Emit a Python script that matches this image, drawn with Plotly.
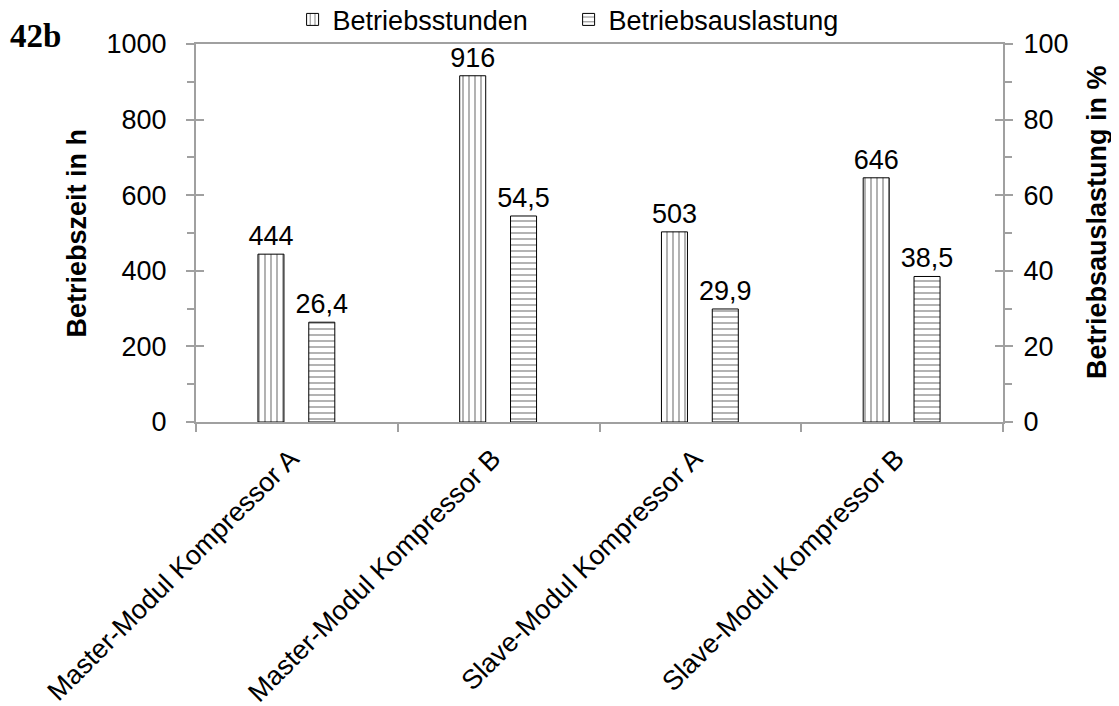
import plotly.graph_objects as go

categories = ["Master-Modul Kompressor A", "Master-Modul Kompressor B",
              "Slave-Modul Kompressor A", "Slave-Modul Kompressor B"]
betriebsstunden = [444, 916, 503, 646]
betriebsauslastung = [26.4, 54.5, 29.9, 38.5]

FONT = "Arial, 'Liberation Sans', sans-serif"
AX = "#a0a0a0"
FS = 27

def de(v):
    return str(v).replace(".", ",")

fig = go.Figure()
fig.add_trace(go.Bar(
    x=categories, y=betriebsstunden, name="Betriebsstunden",
    width=0.129, offset=-0.193,
    marker=dict(color="white", line=dict(color="black", width=1),
                pattern=dict(shape="|", fgcolor="black", bgcolor="white", size=6, solidity=0.2)),
    text=[de(v) for v in betriebsstunden], textposition="outside",
    textfont=dict(family=FONT, size=FS, color="black"),
    constraintext="none", cliponaxis=False, yaxis="y",
))
fig.add_trace(go.Bar(
    x=categories, y=betriebsauslastung, name="Betriebsauslastung",
    width=0.129, offset=0.059,
    marker=dict(color="white", line=dict(color="black", width=1),
                pattern=dict(shape="-", fgcolor="black", bgcolor="white", size=6, solidity=0.2)),
    text=[de(v) for v in betriebsauslastung], textposition="outside",
    textfont=dict(family=FONT, size=FS, color="black"),
    constraintext="none", cliponaxis=False, yaxis="y2",
))

fig.update_layout(
    width=1111, height=698,
    margin=dict(l=188, r=116, t=36, b=284, autoexpand=False),
    paper_bgcolor="white", plot_bgcolor="white",
    font=dict(family=FONT, size=FS, color="black"),
    barmode="overlay",
    showlegend=True,
    legend=dict(orientation="h", x=0.1197, xanchor="left", y=0.983, yanchor="middle",
                yref="container",
                font=dict(family=FONT, size=FS, color="black"),
                entrywidth=231, entrywidthmode="pixels",
                bgcolor="rgba(0,0,0,0)", itemclick=False),
    xaxis=dict(type="category", range=[-0.5, 3.5], showline=True, linecolor=AX, linewidth=2,
               mirror=True, ticks="outside", ticklen=8, tickcolor=AX, tickwidth=1.5,
               tickson="boundaries", tickangle=-45, showgrid=False, automargin=False,
               ticklabelstandoff=8, ticklabelshift=-6,
               tickfont=dict(family=FONT, size=FS, color="black")),
    yaxis=dict(range=[0, 1000], dtick=200, showline=True, linecolor=AX, linewidth=2,
               ticks="outside", ticklen=8, tickcolor=AX, tickwidth=1.5, showgrid=False,
               zeroline=False, ticklabelstandoff=14, automargin=False,
               minor=dict(dtick=100, ticks="outside", ticklen=7, tickcolor=AX, tickwidth=1.5),
               tickfont=dict(family=FONT, size=FS, color="black")),
    yaxis2=dict(range=[0, 100], dtick=20, overlaying="y", side="right", showline=True,
                linecolor=AX, linewidth=2, ticks="outside", ticklen=8, tickcolor=AX,
                tickwidth=1.5, showgrid=False, zeroline=False, ticklabelstandoff=5,
                automargin=False,
                minor=dict(dtick=10, ticks="outside", ticklen=7, tickcolor=AX, tickwidth=1.5),
                tickfont=dict(family=FONT, size=FS, color="black")),
    yaxis3=dict(range=[0, 1000], dtick=200, overlaying="y", side="left", showline=False,
                ticks="inside", ticklen=8, tickcolor=AX, tickwidth=1.5, showgrid=False,
                zeroline=False, showticklabels=False, automargin=False),
    yaxis4=dict(range=[0, 100], dtick=20, overlaying="y", side="right", showline=False,
                ticks="inside", ticklen=8, tickcolor=AX, tickwidth=1.5, showgrid=False,
                zeroline=False, showticklabels=False, automargin=False),
)

# invisible helper traces to activate the overlay tick axes
fig.add_trace(go.Scatter(x=[categories[0]], y=[0], yaxis="y3", mode="markers",
                         marker=dict(opacity=0), showlegend=False, hoverinfo="skip"))
fig.add_trace(go.Scatter(x=[categories[0]], y=[0], yaxis="y4", mode="markers",
                         marker=dict(opacity=0), showlegend=False, hoverinfo="skip"))

fig.add_annotation(text="<b>42b</b>", xref="paper", yref="paper", x=-0.233, y=1.021,
                   xanchor="left", yanchor="middle", showarrow=False,
                   font=dict(family="'Liberation Serif', 'Times New Roman', serif", size=33, color="black"))
fig.add_annotation(text="<b>Betriebszeit in h</b>", xref="paper", yref="paper", x=-0.148, y=0.5,
                   xanchor="center", yanchor="middle", textangle=-90, showarrow=False,
                   font=dict(family=FONT, size=FS, color="black"))
fig.add_annotation(text="<b>Betriebsauslastung in %</b>", xref="paper", yref="paper", x=1.1165, y=0.529,
                   xanchor="center", yanchor="middle", textangle=-90, showarrow=False,
                   font=dict(family=FONT, size=FS, color="black"))

fig.write_html("out.html")
